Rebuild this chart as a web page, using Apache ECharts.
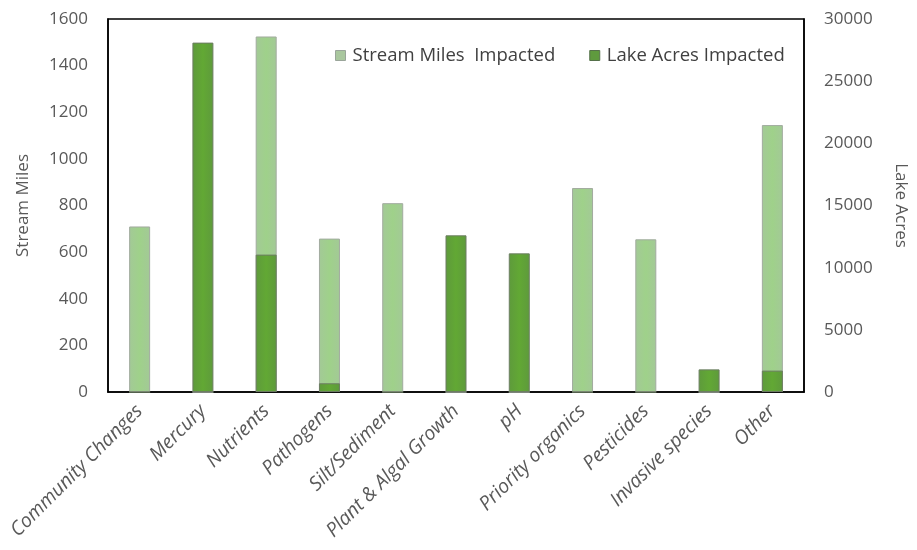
<!DOCTYPE html>
<html>
<head>
<meta charset="utf-8">
<script src="https://cdn.jsdelivr.net/npm/echarts@6/dist/echarts.min.js"></script>
<style>
  html, body { margin: 0; padding: 0; background: #fff; }
  #chart { width: 917px; height: 550px; }
</style>
</head>
<body>
<div id="chart"></div>
<script>
// Impairment causes
const categories = [
  'Community Changes', 'Mercury', 'Nutrients', 'Pathogens', 'Silt/Sediment',
  'Plant & Algal Growth', 'pH', 'Priority organics', 'Pesticides',
  'Invasive species', 'Other'
];
// Stream miles impacted (left axis)
const streamMiles = [710, 0, 1525, 658, 810, 0, 0, 875, 655, 0, 1145];
// Lake acres impacted (right axis)
const lakeAcres = [0, 28100, 11050, 700, 0, 12600, 11150, 0, 0, 1820, 1720];

const FONT = '"Open Sans", sans-serif';

function barFill(edge, mid) {
  return {
    type: 'linear', x: 0, y: 0, x2: 1, y2: 0,
    colorStops: [
      { offset: 0, color: edge },
      { offset: 0.5, color: mid },
      { offset: 1, color: edge }
    ]
  };
}

const plain = v => String(v);

const chart = echarts.init(document.getElementById('chart'), null, { renderer: 'canvas' });

chart.setOption({
  animation: false,
  backgroundColor: '#ffffff',
  grid: {
    left: 108, right: 100, top: 19, bottom: 158,
    show: true, borderColor: '#000', borderWidth: 1.5, backgroundColor: 'transparent'
  },
  legend: {
    top: 41, left: 330,
    itemWidth: 10, itemHeight: 10, itemGap: 34,
    icon: 'rect',
    textStyle: { fontFamily: FONT, fontSize: 18.5, color: '#404040', padding: [0, 0, 0, 2] },
    data: [
      { name: 'Stream Miles  Impacted', itemStyle: { color: '#a9c79e', borderColor: '#9aa59a', borderWidth: 1 } },
      { name: 'Lake Acres Impacted', itemStyle: { color: '#5f9a3e', borderColor: '#55704a', borderWidth: 1 } }
    ]
  },
  xAxis: {
    type: 'category',
    data: categories,
    axisLine: { show: true, lineStyle: { color: '#000', width: 1.5 } },
    axisTick: { show: false },
    axisLabel: {
      rotate: 45, interval: 0, margin: 16,
      fontFamily: FONT, fontSize: 19.5, fontStyle: 'italic', color: '#595959'
    }
  },
  yAxis: [
    {
      type: 'value', min: 0, max: 1600, interval: 200,
      name: 'Stream Miles', nameLocation: 'middle', nameGap: 76, nameRotate: 90,
      nameTextStyle: { fontFamily: FONT, fontSize: 17, color: '#595959' },
      axisLine: { show: true, lineStyle: { color: '#000', width: 1.5 } },
      axisTick: { show: false },
      splitLine: { show: false },
      axisLabel: { fontFamily: FONT, fontSize: 17, color: '#595959', margin: 20, formatter: plain }
    },
    {
      type: 'value', min: 0, max: 30000, interval: 5000,
      name: 'Lake Acres', nameLocation: 'middle', nameGap: 88, nameRotate: -90,
      nameTextStyle: { fontFamily: FONT, fontSize: 17, color: '#595959' },
      axisLine: { show: true, lineStyle: { color: '#000', width: 1.5 } },
      axisTick: { show: false },
      splitLine: { show: false },
      axisLabel: { fontFamily: FONT, fontSize: 17, color: '#595959', margin: 20, formatter: plain }
    }
  ],
  series: [
    {
      name: 'Stream Miles  Impacted',
      type: 'bar',
      yAxisIndex: 0,
      barWidth: 21,
      data: streamMiles,
      z: 2,
      itemStyle: {
        color: barFill('#a3c997', '#9fd18a'),
        borderColor: '#a2ab9f', borderWidth: 1
      }
    },
    {
      name: 'Lake Acres Impacted',
      type: 'bar',
      yAxisIndex: 1,
      barWidth: 21,
      barGap: '-100%',
      data: lakeAcres,
      z: 3,
      itemStyle: {
        color: barFill('#5e9a3c', '#62a834'),
        borderColor: '#6d7d63', borderWidth: 1
      }
    }
  ]
});
</script>
</body>
</html>
